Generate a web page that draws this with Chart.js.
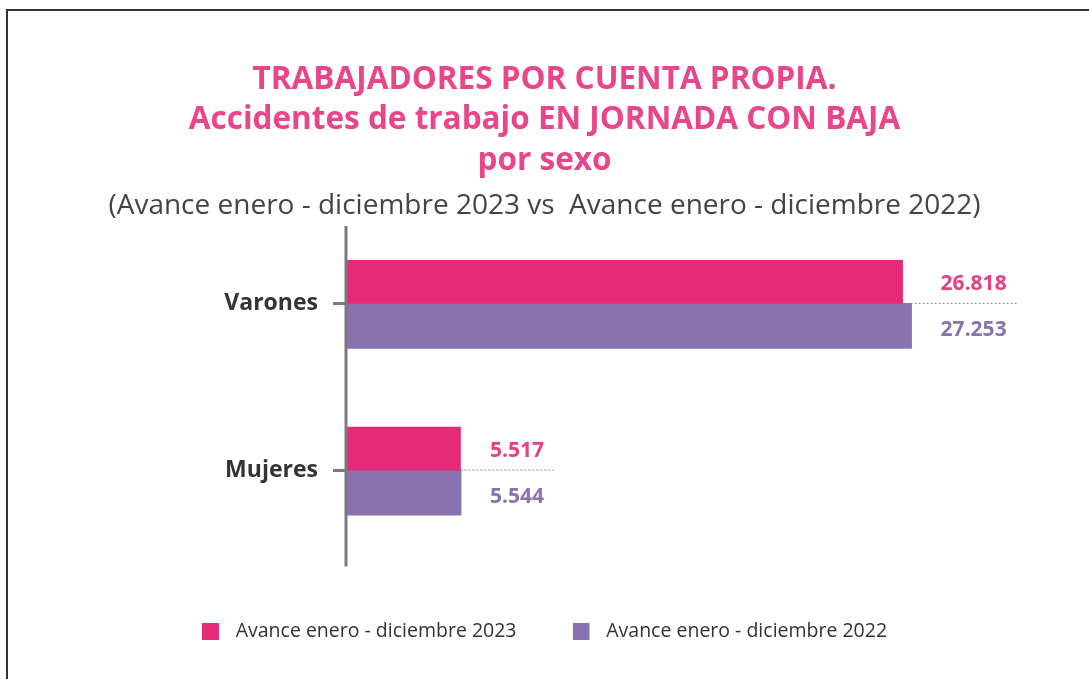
<!DOCTYPE html>
<html>
<head>
<meta charset="utf-8">
<script src="https://cdn.jsdelivr.net/npm/chart.js@4.4.1/dist/chart.umd.min.js"></script>
<style>
  html, body { margin: 0; padding: 0; background: #fff; }
  #wrap { position: relative; width: 1089px; height: 679px; overflow: hidden; }
  #marco { position: absolute; left: 6px; top: 9px; width: 1200px; height: 800px;
           border-top: 2px solid #333; border-left: 2px solid #333; }
  canvas { position: absolute; left: 0; top: 0; }
</style>
</head>
<body>
<div id="wrap">
  <div id="marco"></div>
  <canvas id="grafico" width="1089" height="679"></canvas>
</div>
<script>
// datos del grafico
var categorias = ['Varones', 'Mujeres'];
var valores2023 = [26818, 5517];
var valores2022 = [27253, 5544];
var etiquetasSeries = ['Avance enero - diciembre 2023', 'Avance enero - diciembre 2022'];
var coloresSeries = ['#E62A77', '#8A71B0'];
var colorValores = ['#E8407F', '#8A71B0'];

function formato(n) {// 26818 -> 26.818
    return n.toString().replace(/\B(?=(\d{3})+(?!\d))/g, '.');
}

// cuadrito de la leyenda con hueco a la derecha para separar el texto
function cuadro(color) {
    var c = document.createElement('canvas');
    c.width = 24;
    c.height = 17;
    var g = c.getContext('2d');
    g.fillStyle = color;
    g.fillRect(0, 0, 17, 17);
    return c;
}

// eje vertical, linea de puntos y valores al final de las barras
var extras = {
    id: 'extras',
    afterDatasetsDraw: function (chart) {
        var ctx = chart.ctx;
        var area = chart.chartArea;
        ctx.save();
        ctx.strokeStyle = '#7a7a7a';
        ctx.lineWidth = 3;
        ctx.beginPath();
        ctx.moveTo(area.left, area.top + 6);
        ctx.lineTo(area.left, area.bottom + 13);
        ctx.stroke();

        var m0 = chart.getDatasetMeta(0), m1 = chart.getDatasetMeta(1);
        ctx.font = 'bold 21px "Open Sans"';
        ctx.textBaseline = 'middle';
        ctx.textAlign = 'left';
        for (var i = 0; i < categorias.length; i++) {
            var b0 = m0.data[i], b1 = m1.data[i];
            var fin = Math.max(b0.x, b1.x);
            var xTexto = fin + 29;
            var t0 = formato(valores2023[i]), t1 = formato(valores2022[i]);
            var ancho = Math.max(ctx.measureText(t0).width, ctx.measureText(t1).width);
            var yMedio = (b0.y + b0.height / 2 + b1.y - b1.height / 2) / 2;
            ctx.strokeStyle = '#8a8a8a';
            ctx.lineWidth = 1;
            ctx.setLineDash([2, 2]);
            ctx.beginPath();
            ctx.moveTo(b0.x, yMedio);
            ctx.lineTo(xTexto + ancho + 10, yMedio);
            ctx.stroke();
            ctx.setLineDash([]);
            ctx.fillStyle = colorValores[0];
            ctx.fillText(t0, xTexto, b0.y + 2);
            ctx.fillStyle = colorValores[1];
            ctx.fillText(t1, xTexto, b1.y + 4);
        }
        ctx.restore();
    }
};

var ctx = document.getElementById('grafico');
var grafico = new Chart(ctx, {
    type: 'bar',
    data: {
        labels: categorias,
        datasets: [{
            label: etiquetasSeries[0],
            data: valores2023,
            backgroundColor: coloresSeries[0],
            barThickness: 43
        }, {
            label: etiquetasSeries[1],
            data: valores2022,
            backgroundColor: coloresSeries[1],
            barThickness: 45
        }]
    },
    plugins: [extras],
    options: {
        indexAxis: 'y',
        responsive: false,
        animation: false,
        layout: { padding: { left: 0, right: 0, top: 0, bottom: 28 } },
        scales: {
            x: {
                min: 0,
                max: 35800,
                grid: { display: false },
                border: { display: false },
                ticks: { display: false },
                afterFit: function (scale) { scale.height = 12; }
            },
            y: {
                grid: {
                    offset: false,
                    drawOnChartArea: false,
                    drawTicks: true,
                    tickLength: 13,
                    color: '#7a7a7a',
                    lineWidth: 3
                },
                border: { display: false },
                ticks: {
                    padding: 15,
                    color: '#333',
                    font: { family: 'Open Sans', size: 23, weight: 'bold' }
                },
                afterFit: function (scale) { scale.width = 346; }
            }
        },
        plugins: {
            title: {
                display: true,
                text: ['TRABAJADORES POR CUENTA PROPIA.', 'Accidentes de trabajo EN JORNADA CON BAJA', 'por sexo'],
                color: '#E8458A',
                font: { family: 'Open Sans', size: 31.5, weight: 'bold', lineHeight: 1.28 },
                padding: { top: 60, bottom: 0 }
            },
            subtitle: {
                display: true,
                text: '(Avance enero - diciembre 2023 vs  Avance enero - diciembre 2022)',
                color: '#444',
                font: { family: 'Open Sans', size: 28, weight: 'normal', lineHeight: 1.0 },
                padding: { top: 11, bottom: 0 }
            },
            legend: {
                position: 'bottom',
                labels: {
                    usePointStyle: true,
                    pointStyleWidth: 24,
                    padding: 56,
                    color: '#333',
                    font: { family: 'Open Sans', size: 19.5 },
                    generateLabels: function (chart) {
                        var items = Chart.defaults.plugins.legend.labels.generateLabels(chart);
                        items.forEach(function (it, i) { it.pointStyle = cuadro(coloresSeries[i]); });
                        return items;
                    }
                }
            },
            tooltip: { enabled: false }
        }
    }
});
</script>
</body>
</html>
